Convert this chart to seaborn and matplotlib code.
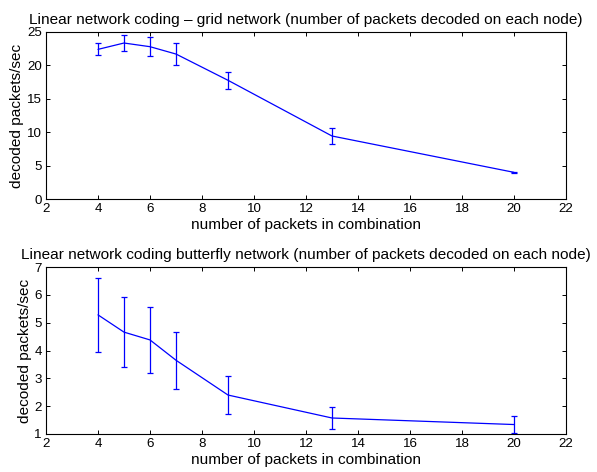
import matplotlib
matplotlib.use("Agg")
import matplotlib.pyplot as plt
import seaborn as sns
import pandas as pd

sns.set_theme(style="white")
plt.rcParams["font.family"] = ["Liberation Sans", "DejaVu Sans"]
plt.rcParams.update({"text.color": "black", "axes.labelcolor": "black",
                     "xtick.color": "black", "ytick.color": "black"})

# packets per combination
packets = [4, 5, 6, 7, 9, 13, 20]

# grid network
grid_rate = [22.4, 23.35, 22.8, 21.7, 17.77, 9.43, 3.99]
grid_err = [0.9, 1.15, 1.4, 1.6, 1.3, 1.15, 0.05]

# butterfly network
bfly_rate = [5.28, 4.66, 4.38, 3.65, 2.40, 1.575, 1.34]
bfly_err = [1.32, 1.25, 1.18, 1.03, 0.67, 0.40, 0.31]

panels = [
    ("Linear network coding \u2013 grid network (number of packets decoded on each node)",
     grid_rate, grid_err, (0, 25), [0, 5, 10, 15, 20, 25]),
    ("Linear network coding butterfly network (number of packets decoded on each node)",
     bfly_rate, bfly_err, (1, 7), [1, 2, 3, 4, 5, 6, 7]),
]

fig = plt.figure(figsize=(5.97, 4.72), dpi=100)
W, H = 597, 472
boxes = [(46, 32, 566, 199), (46, 267, 566, 434)]
fs_text = 11.1
fs_tick = 9.6

for (title, rate, err, ylim, yticks), (l, t, r, b) in zip(panels, boxes):
    ax = fig.add_axes([l / W, 1 - b / H, (r - l) / W, (b - t) / H])
    df = pd.DataFrame({"n": packets, "rate": rate})
    sns.lineplot(data=df, x="n", y="rate", ax=ax, color="#0000ff", lw=0.9)
    ax.errorbar(packets, rate, yerr=err, fmt="none", ecolor="#0000ff",
                elinewidth=0.9, capsize=2.3, capthick=0.9)
    ax.set_xlim(2, 22)
    ax.set_ylim(*ylim)
    ax.set_xticks(range(2, 23, 2))
    ax.set_yticks(yticks)
    ax.set_title(title, fontsize=fs_text, pad=6, color="black")
    ax.set_xlabel("number of packets in combination", fontsize=fs_text, labelpad=2)
    ax.set_ylabel("decoded packets/sec", fontsize=fs_text, labelpad=2)
    ax.tick_params(direction="in", length=3, width=0.7, labelsize=fs_tick,
                   top=True, right=True, bottom=True, left=True, pad=3,
                   color="black", labelcolor="black")
    for s in ax.spines.values():
        s.set_color("black")
        s.set_linewidth(0.8)

fig.savefig("out.png", dpi=100)
